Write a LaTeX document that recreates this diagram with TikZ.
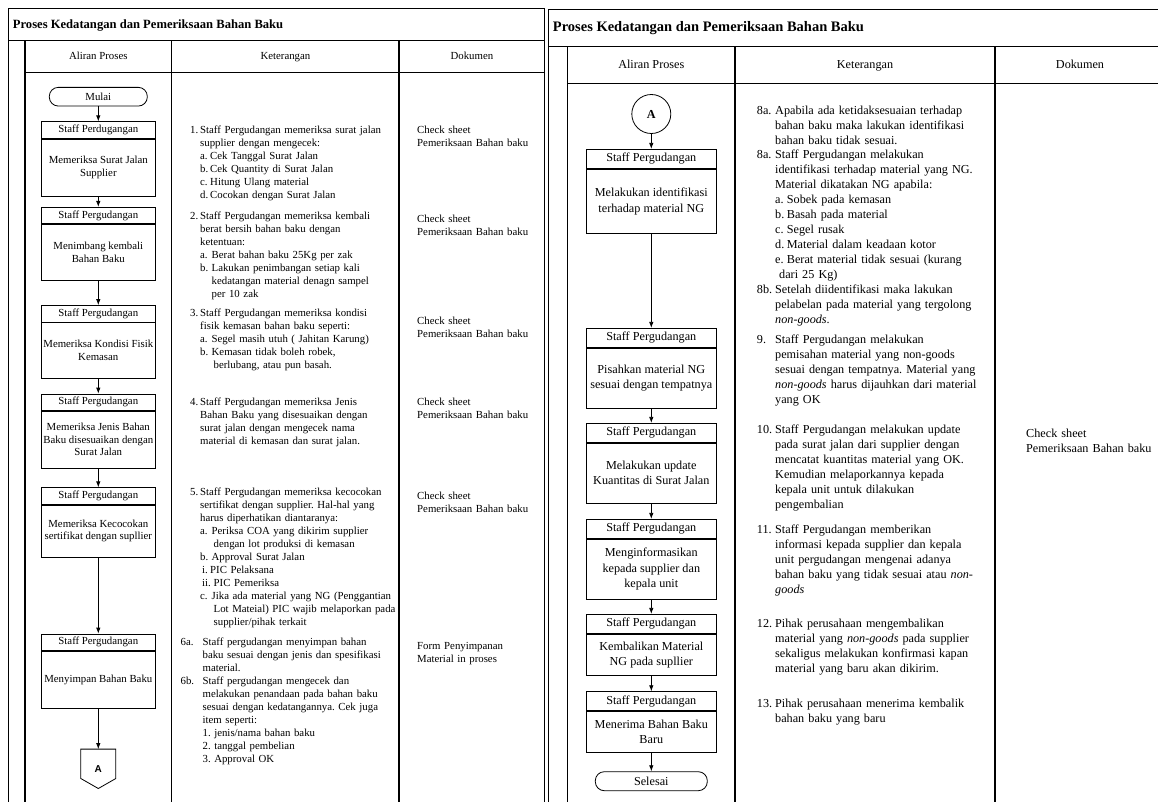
\documentclass[tikz,border=0pt]{standalone}
\usepackage{fontspec}
\setmainfont{Liberation Serif}
\setsansfont{Liberation Sans}
\usetikzlibrary{arrows.meta,positioning}
\frenchspacing

\newcommand{\lsz}{\fontsize{10.8}{13}\selectfont}
\newcommand{\rsz}{\fontsize{12.2}{15}\selectfont}
\newcommand{\nlab}[2]{\makebox[#1][l]{#2}}

\begin{document}
\begin{tikzpicture}[x=1pt,y=-1pt,
    grid/.style={line width=1.1pt},
    flow/.style={line width=0.8pt,-{Latex[length=6pt,width=4.5pt]}},
    lhead/.style={draw,line width=0.8pt,minimum width=114.7pt,minimum height=16.5pt,inner sep=0pt,font=\lsz},
    lbody/.style={draw,line width=0.8pt,minimum width=114.7pt,inner sep=0pt,align=center,font=\fontsize{10.8}{12.6}\selectfont},
    rhead/.style={draw,line width=0.8pt,minimum width=130.7pt,minimum height=19pt,inner sep=0pt,font=\rsz},
    rbody/.style={draw,line width=0.8pt,minimum width=130.7pt,inner sep=0pt,align=center,font=\fontsize{12.2}{15.3}\selectfont},
    term/.style={draw,line width=0.8pt,rounded corners=9pt,inner sep=0pt},
    colhead/.style={anchor=base,inner sep=0pt},
    lnote/.style={anchor=base west,inner sep=0pt,text width=230pt,align=left,font=\lsz},
    rnote/.style={anchor=base west,inner sep=0pt,text width=230pt,align=left,font=\rsz}]
    \useasboundingbox (0,0) rectangle (1158,801);
    \clip (0,0) rectangle (1158,801);

    % left sheet: frame and columns
    \draw[grid] (8.3,805) -- (8.3,8.3) -- (544.8,8.3) -- (544.8,805);
    \draw[grid] (8.3,40.7) -- (544.8,40.7);
    \draw[grid] (25,805) -- (25,40.7);
    \draw[grid] (25,72.3) -- (544.8,72.3);
    \draw[grid] (171.7,40.7) -- (171.7,805);
    \draw[grid] (399,40.7) -- (399,805);
    \node[anchor=base west,inner sep=0pt,font=\bfseries\fontsize{12.6}{15}\selectfont] (ltitle) at (12.7,28) {Proses Kedatangan dan Pemeriksaan Bahan Baku};
    \node[colhead,font=\lsz] (lcolA) at (98.3,59.9) {Aliran Proses};
    \node[colhead,font=\lsz] (lcolK) at (285.4,59.9) {Keterangan};
    \node[colhead,font=\lsz] (lcolD) at (471.9,59.9) {Dokumen};

    % left sheet: flow
    \node[term,minimum width=98pt,minimum height=18.7pt,font=\lsz] (mulai) at (98.3,96.7) {Mulai};
    \node[lhead] (lh1) at (98.3,130) {Staff Perdugangan};
    \node[lbody,minimum height=57pt,below=0pt of lh1] (lb1) {Memeriksa Surat Jalan\\Supplier};
    \node[lhead] (lh2) at (98.3,215.6) {Staff Pergudangan};
    \node[lbody,minimum height=55.7pt,below=0pt of lh2] (lb2) {Menimbang kembali\\Bahan Baku};
    \node[lhead] (lh3) at (98.3,313.8) {Staff Pergudangan};
    \node[lbody,minimum height=55.3pt,below=0pt of lh3] (lb3) {Memeriksa Kondisi Fisik\\Kemasan};
    \node[lhead] (lh4) at (98.3,402.3) {Staff Pergudangan};
    \node[lbody,minimum height=56.6pt,below=0pt of lh4] (lb4) {Memeriksa Jenis Bahan\\Baku disesuaikan dengan\\Surat Jalan};
    \node[lhead] (lh5) at (98.3,496) {Staff Pergudangan};
    \node[lbody,minimum height=52pt,below=0pt of lh5] (lb5) {Memeriksa Kecocokan\\sertifikat dengan supllier};
    \node[lhead] (lh6) at (98.3,642.3) {Staff Pergudangan};
    \node[lbody,minimum height=56.6pt,below=0pt of lh6] (lb6) {Menyimpan Bahan Baku};
    \node[minimum width=34.6pt,minimum height=39pt,inner sep=0pt,font=\sffamily\bfseries\fontsize{10}{12}\selectfont] (la) at (98.3,768.8) {A};
    \draw[line width=0.8pt] (la.north west) -- (la.north east) -- ([yshift=10pt]la.south east) -- (la.south) -- ([yshift=10pt]la.south west) -- cycle;
    \draw[flow] (mulai) -- (lh1);
    \draw[flow] (lb1) -- (lh2);
    \draw[flow] (lb2) -- (lh3);
    \draw[flow] (lb3) -- (lh4);
    \draw[flow] (lb4) -- (lh5);
    \draw[flow] (lb5) -- (lh6);
    \draw[flow] (lb6) -- (la);

    % left sheet: notes
    \node[lnote] (lk1) at (190,133.9) {\nlab{10pt}{1.}Staff Pergudangan memeriksa surat jalan\\
        \hspace*{10pt}supplier dengan mengecek:\\
        \hspace*{10pt}\nlab{10pt}{a.}Cek Tanggal Surat Jalan\\
        \hspace*{10pt}\nlab{10pt}{b.}Cek Quantity di Surat Jalan\\
        \hspace*{10pt}\nlab{10pt}{c.}Hitung Ulang material\\
        \hspace*{10pt}\nlab{10pt}{d.}Cocokan dengan Surat Jalan};
    \node[lnote] (lk2) at (190,219.2) {\nlab{10pt}{2.}Staff Pergudangan memeriksa kembali\\
        \hspace*{10pt}berat bersih bahan baku dengan\\
        \hspace*{10pt}ketentuan:\\
        \hspace*{10pt}\nlab{11.5pt}{a.}Berat bahan baku 25Kg per zak\\
        \hspace*{10pt}\nlab{11.5pt}{b.}Lakukan penimbangan setiap kali\\
        \hspace*{21.5pt}kedatangan material denagn sampel\\
        \hspace*{21.5pt}per 10 zak};
    \node[lnote] (lk3) at (190,316.5) {\nlab{10pt}{3.}Staff Pergudangan memeriksa kondisi\\
        \hspace*{10pt}fisik kemasan bahan baku seperti:\\
        \hspace*{10pt}\nlab{11.5pt}{a.}Segel masih utuh ( Jahitan Karung)\\
        \hspace*{10pt}\nlab{11.5pt}{b.}Kemasan tidak boleh robek,\\
        \hspace*{23.5pt}berlubang, atau pun basah.};
    \node[lnote] (lk4) at (190,405.9) {\nlab{10pt}{4.}Staff Pergudangan memeriksa Jenis\\
        \hspace*{10pt}Bahan Baku yang disesuaikan dengan\\
        \hspace*{10pt}surat jalan dengan mengecek nama\\
        \hspace*{10pt}material di kemasan dan surat jalan.};
    \node[lnote] (lk5) at (190,495.9) {\nlab{10pt}{5.}Staff Pergudangan memeriksa kecocokan\\
        \hspace*{10pt}sertifikat dengan supplier. Hal-hal yang\\
        \hspace*{10pt}harus diperhatikan diantaranya:\\
        \hspace*{10pt}\nlab{11.5pt}{a.}Periksa COA yang dikirim supplier\\
        \hspace*{23.5pt}dengan lot produksi di kemasan\\
        \hspace*{10pt}\nlab{11.5pt}{b.}Approval Surat Jalan\\
        \hspace*{12pt}\nlab{8pt}{i.}PIC Pelaksana\\
        \hspace*{12pt}\nlab{11.5pt}{ii.}PIC Pemeriksa\\
        \hspace*{10pt}\nlab{11.5pt}{c.}Jika ada material yang NG (Penggantian\\
        \hspace*{23.5pt}Lot Mateial) PIC wajib melaporkan pada\\
        \hspace*{23.5pt}supplier/pihak terkait};
    \node[lnote] (lk6) at (180.4,645.9) {\nlab{22pt}{6a.}Staff pergudangan menyimpan bahan\\
        \hspace*{22pt}baku sesuai dengan jenis dan spesifikasi\\
        \hspace*{22pt}material.\\
        \nlab{22pt}{6b.}Staff pergudangan mengecek dan\\
        \hspace*{22pt}melakukan penandaan pada bahan baku\\
        \hspace*{22pt}sesuai dengan kedatangannya. Cek juga\\
        \hspace*{22pt}item seperti:\\
        \hspace*{22pt}1. jenis/nama bahan baku\\
        \hspace*{22pt}2. tanggal pembelian\\
        \hspace*{22pt}3. Approval OK};

    % left sheet: documents
    \node[lnote] (ld1) at (417,133.2) {Check sheet\\Pemeriksaan Bahan baku};
    \node[lnote] (ld2) at (417,222.5) {Check sheet\\Pemeriksaan Bahan baku};
    \node[lnote] (ld3) at (417,324.9) {Check sheet\\Pemeriksaan Bahan baku};
    \node[lnote] (ld4) at (417,405.9) {Check sheet\\Pemeriksaan Bahan baku};
    \node[lnote] (ld5) at (417,499.2) {Check sheet\\Pemeriksaan Bahan baku};
    \node[lnote] (ld6) at (417,649.9) {Form Penyimpanan\\Material in proses};

    % right sheet: frame and columns
    \draw[grid] (548.7,805) -- (548.7,9.3) -- (1170,9.3);
    \draw[grid] (548.7,46.7) -- (1170,46.7);
    \draw[grid] (567.7,805) -- (567.7,46.7);
    \draw[grid] (567.7,83.3) -- (1170,83.3);
    \draw[grid] (735,46.7) -- (735,805);
    \draw[grid] (995,46.7) -- (995,805);
    \node[anchor=base west,inner sep=0pt,font=\bfseries\fontsize{14.5}{17}\selectfont] (rtitle) at (552.7,31.7) {Proses Kedatangan dan Pemeriksaan Bahan Baku};
    \node[colhead,font=\rsz] (rcolA) at (651.3,68.7) {Aliran Proses};
    \node[colhead,font=\rsz] (rcolK) at (865,68.7) {Keterangan};
    \node[colhead,font=\rsz] (rcolD) at (1080,68.7) {Dokumen};

    % right sheet: flow
    \node[draw,circle,line width=0.8pt,minimum size=39pt,inner sep=0pt,font=\rsz\bfseries] (ra) at (651.3,114) {A};
    \node[rhead] (rh1) at (651.3,158.8) {Staff Pergudangan};
    \node[rbody,minimum height=64.7pt,below=0pt of rh1] (rb1) {Melakukan identifikasi\\terhadap material NG};
    \node[rhead] (rh2) at (651.3,337.8) {Staff Pergudangan};
    \node[rbody,minimum height=60.6pt,below=0pt of rh2] (rb2) {Pisahkan material NG\\sesuai dengan tempatnya};
    \node[rhead] (rh3) at (651.3,432.8) {Staff Pergudangan};
    \node[rbody,minimum height=60pt,below=0pt of rh3] (rb3) {Melakukan update\\Kuantitas di Surat Jalan};
    \node[rhead] (rh4) at (651.3,528.8) {Staff Pergudangan};
    \node[rbody,minimum height=60pt,below=0pt of rh4] (rb4) {Menginformasikan\\kepada supplier dan\\kepala unit};
    \node[rhead] (rh5) at (651.3,623.8) {Staff Pergudangan};
    \node[rbody,minimum height=41.7pt,below=0pt of rh5] (rb5) {Kembalikan Material\\NG pada supllier};
    \node[rhead] (rh6) at (651.3,701.2) {Staff Pergudangan};
    \node[rbody,minimum height=41pt,below=0pt of rh6] (rb6) {Menerima Bahan Baku\\Baru};
    \node[term,minimum width=112pt,minimum height=19pt,font=\rsz] (selesai) at (651.3,781.2) {Selesai};
    \draw[flow] (ra) -- (rh1);
    \draw[flow] (rb1) -- (rh2);
    \draw[flow] (rb2) -- (rh3);
    \draw[flow] (rb3) -- (rh4);
    \draw[flow] (rb4) -- (rh5);
    \draw[flow] (rb5) -- (rh6);
    \draw[flow] (rb6) -- (selesai);

    % right sheet: notes
    \node[rnote] (rk1) at (756.7,114.4) {\nlab{18.3pt}{8a.}Apabila ada ketidaksesuaian terhadap\\
        \hspace*{18.3pt}bahan baku maka lakukan identifikasi\\
        \hspace*{18.3pt}bahan baku tidak sesuai.};
    \node[rnote] (rk2) at (756.7,158.7) {\nlab{18.3pt}{8a.}Staff Pergudangan melakukan\\
        \hspace*{18.3pt}identifikasi terhadap material yang NG.\\
        \hspace*{18.3pt}Material dikatakan NG apabila:\\
        \hspace*{18.3pt}\nlab{11.7pt}{a.}Sobek pada kemasan\\
        \hspace*{18.3pt}\nlab{11.7pt}{b.}Basah pada material\\
        \hspace*{18.3pt}\nlab{11.7pt}{c.}Segel rusak\\
        \hspace*{18.3pt}\nlab{11.7pt}{d.}Material dalam keadaan kotor\\
        \hspace*{18.3pt}\nlab{11.7pt}{e.}Berat material tidak sesuai (kurang\\
        \hspace*{22.3pt}dari 25 Kg)};
    \node[rnote] (rk3) at (756.7,293.7) {\nlab{18.3pt}{8b.}Setelah diidentifikasi maka lakukan\\
        \hspace*{18.3pt}pelabelan pada material yang tergolong\\
        \hspace*{18.3pt}\textit{non-goods}.};
    \node[rnote] (rk4) at (756.7,343.7) {\nlab{18.3pt}{9.}Staff Pergudangan melakukan\\
        \hspace*{18.3pt}pemisahan material yang non-goods\\
        \hspace*{18.3pt}sesuai dengan tempatnya. Material yang\\
        \hspace*{18.3pt}\textit{non-goods} harus dijauhkan dari material\\
        \hspace*{18.3pt}yang OK};
    \node[rnote] (rk5) at (756.7,433.7) {\nlab{18.3pt}{10.}Staff Pergudangan melakukan update\\
        \hspace*{18.3pt}pada surat jalan dari supplier dengan\\
        \hspace*{18.3pt}mencatat kuantitas material yang OK.\\
        \hspace*{18.3pt}Kemudian melaporkannya kepada\\
        \hspace*{18.3pt}kepala unit untuk dilakukan\\
        \hspace*{18.3pt}pengembalian};
    \node[rnote] (rk6) at (756.7,533) {\nlab{18.3pt}{11.}Staff Pergudangan memberikan\\
        \hspace*{18.3pt}informasi kepada supplier dan kepala\\
        \hspace*{18.3pt}unit pergudangan mengenai adanya\\
        \hspace*{18.3pt}bahan baku yang tidak sesuai atau \textit{non-}\\
        \hspace*{18.3pt}\textit{goods}};
    \node[rnote] (rk7) at (756.7,627.7) {\nlab{18.3pt}{12.}Pihak perusahaan mengembalikan\\
        \hspace*{18.3pt}material yang \textit{non-goods} pada supplier\\
        \hspace*{18.3pt}sekaligus melakukan konfirmasi kapan\\
        \hspace*{18.3pt}material yang baru akan dikirim.};
    \node[rnote] (rk8) at (756.7,707.7) {\nlab{18.3pt}{13.}Pihak perusahaan menerima kembalik\\
        \hspace*{18.3pt}bahan baku yang baru};

    % right sheet: documents
    \node[rnote] (rd1) at (1026,437) {Check sheet\\Pemeriksaan Bahan baku};
\end{tikzpicture}
\end{document}
